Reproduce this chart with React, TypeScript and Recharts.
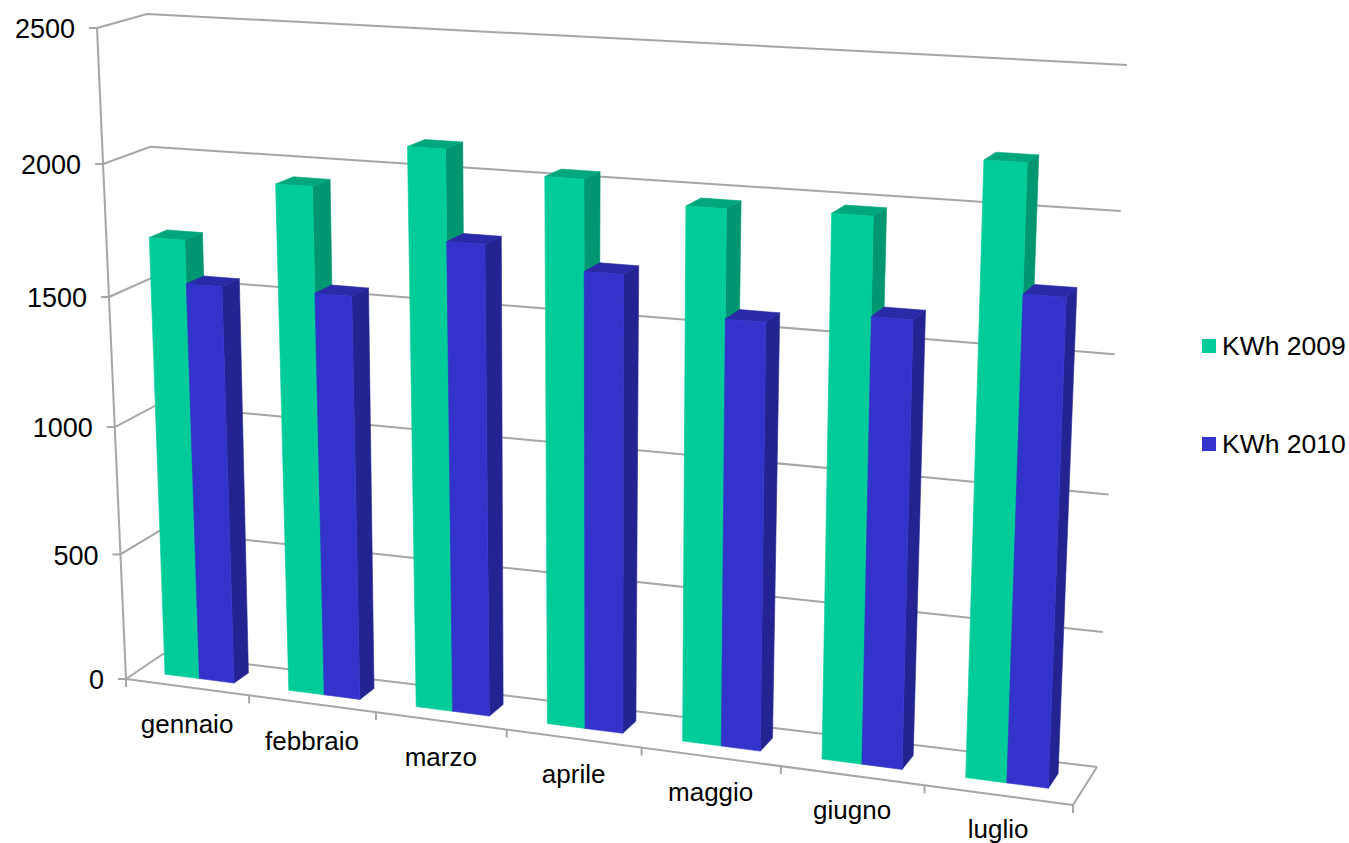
import { Bar, BarChart, CartesianGrid, Legend, XAxis, YAxis } from 'recharts'

const MONTHS = ['gennaio', 'febbraio', 'marzo', 'aprile', 'maggio', 'giugno', 'luglio']
const KWH_2009 = [1710, 1945, 2115, 2040, 1970, 1980, 2197]
const KWH_2010 = [1545, 1550, 1780, 1710, 1580, 1630, 1750]
const Y_TICKS = [0, 500, 1000, 1500, 2000, 2500]

const rows = MONTHS.map((month, i) => ({
  month,
  'KWh 2009': KWH_2009[i],
  'KWh 2010': KWH_2010[i],
}))

type Pt = [number, number]

const WIDTH = 1349
const HEIGHT = 843
// flat plot box; everything in it gets pushed through project() below
const PLOT = { left: 126, top: 28, width: 947, height: 777 }

const GRID_COLOR = '#a6a6a6'
const FONT = '"Liberation Sans", Arial, sans-serif'
const FONT_SIZE = 26

const GREEN = { front: '#00cc99', side: '#00966f', top: '#00a67c' }
const BLUE = { front: '#3333cc', side: '#232392', top: '#2a2aa8' }

// box corners as tl, tr, br, bl
const FRONT_QUAD: Pt[] = [[97, 28], [1100, 82], [1073, 805], [126, 679]]
const BACK_QUAD: Pt[] = [[147, 14], [1127, 65], [1097, 767], [163, 654]]
const BAR_DEPTH_FRONT = 0.33
const BAR_DEPTH_BACK = 0.72

// unit square -> quad homography
const makeHomography = ([p0, p1, p2, p3]: Pt[]) => {
  const dx1 = p1[0] - p2[0]
  const dx2 = p3[0] - p2[0]
  const dy1 = p1[1] - p2[1]
  const dy2 = p3[1] - p2[1]
  const sx = p0[0] - p1[0] + p2[0] - p3[0]
  const sy = p0[1] - p1[1] + p2[1] - p3[1]
  const det = dx1 * dy2 - dx2 * dy1
  const g = (sx * dy2 - dx2 * sy) / det
  const h = (dx1 * sy - sx * dy1) / det
  const a = p1[0] - p0[0] + g * p1[0]
  const b = p3[0] - p0[0] + h * p3[0]
  const d = p1[1] - p0[1] + g * p1[1]
  const e = p3[1] - p0[1] + h * p3[1]
  return (u: number, v: number): Pt => {
    const w = g * u + h * v + 1
    return [(a * u + b * v + p0[0]) / w, (d * u + e * v + p0[1]) / w]
  }
}

const frontPlane = makeHomography(FRONT_QUAD)
const backPlane = makeHomography(BACK_QUAD)

// u across, v down (0 = top of scale), depth 0 front .. 1 back wall
const project = (u: number, v: number, depth: number): Pt => {
  const f = frontPlane(u, v)
  const b = backPlane(u, v)
  return [f[0] + (b[0] - f[0]) * depth, f[1] + (b[1] - f[1]) * depth]
}

const toU = (x: number) => (x - PLOT.left) / PLOT.width
const toV = (y: number) => (y - PLOT.top) / PLOT.height
const pts = (list: Pt[]) => list.map((p) => `${p[0].toFixed(1)},${p[1].toFixed(1)}`).join(' ')

const Face = ({ fill, corners }: { fill: string; corners: Pt[] }) => (
  <polygon fill={fill} stroke={fill} strokeWidth={0.6} strokeLinejoin="round" points={pts(corners)} />
)

const barShape = (colors: typeof GREEN) => (props: any) => {
  const { x, y, width, height } = props
  const u0 = toU(x)
  const u1 = toU(x + width)
  const vTop = toV(y)
  const vBase = toV(y + height)
  const d0 = BAR_DEPTH_FRONT
  const d1 = BAR_DEPTH_BACK
  return (
    <g>
      <Face
        fill={colors.side}
        corners={[project(u1, vTop, d0), project(u1, vTop, d1), project(u1, vBase, d1), project(u1, vBase, d0)]}
      />
      <Face
        fill={colors.top}
        corners={[project(u0, vTop, d0), project(u0, vTop, d1), project(u1, vTop, d1), project(u1, vTop, d0)]}
      />
      <Face
        fill={colors.front}
        corners={[project(u0, vTop, d0), project(u1, vTop, d0), project(u1, vBase, d0), project(u0, vBase, d0)]}
      />
    </g>
  )
}

const Line = ({ from, to }: { from: Pt; to: Pt }) => (
  <line x1={from[0]} y1={from[1]} x2={to[0]} y2={to[1]} stroke={GRID_COLOR} strokeWidth={2} />
)

// one level: side wall segment then back wall segment
const gridLevel = (props: any) => {
  const v = toV(props.y1)
  return (
    <polyline
      key={props.key ?? props.y1}
      fill="none"
      stroke={GRID_COLOR}
      strokeWidth={2}
      points={pts([project(0, v, 0), project(0, v, 1), project(1, v, 1)])}
    />
  )
}

const YTick = (props: any) => {
  const [px, py] = project(0, toV(props.y), 0)
  return (
    <g>
      <Line from={[px - 8, py]} to={[px, py]} />
      <text x={px - 22} y={py} dy="0.38em" textAnchor="end" fontFamily={FONT} fontSize={27} fill="#000">
        {props.payload.value}
      </text>
    </g>
  )
}

const XTick = (props: any) => {
  const step = 1 / MONTHS.length
  const u = toU(props.x)
  const [px, py] = project(u, 1, 0)
  const start = project(u - step / 2, 1, 0)
  const end = project(u + step / 2, 1, 0)
  // labels sit a little closer to the floor edge towards the right
  const labelY = py + 37.5 - 3.5 * u
  return (
    <g>
      <Line from={start} to={[start[0], start[1] + 8]} />
      {props.index === MONTHS.length - 1 && <Line from={end} to={[end[0], end[1] + 8]} />}
      <text x={px} y={labelY} dy="0.35em" textAnchor="middle" fontFamily={FONT} fontSize={FONT_SIZE} fill="#000">
        {props.payload.value}
      </text>
    </g>
  )
}

// floor edges and the near vertical axis
const Frame = () => (
  <g>
    <Line from={project(0, 0, 0)} to={project(0, 1, 0)} />
    <Line from={project(0, 1, 0)} to={project(1, 1, 0)} />
    <Line from={project(1, 1, 0)} to={project(1, 1, 1)} />
  </g>
)

const LegendList = ({ payload }: any) => (
  <div style={{ fontFamily: FONT, fontSize: 26.5, color: '#000' }}>
    {payload.map((item: any) => (
      <div key={item.value} style={{ display: 'flex', alignItems: 'center', height: 30, marginBottom: 68 }}>
        <span style={{ width: 14, height: 14, background: item.color, marginRight: 6 }} />
        {item.value}
      </div>
    ))}
  </div>
)

export default function App() {
  return (
    <div style={{ position: 'absolute', left: 0, top: 0, background: '#fff' }}>
      <BarChart
        width={WIDTH}
        height={HEIGHT}
        data={rows}
        barGap={0}
        barCategoryGap="22%"
        margin={{
          top: PLOT.top,
          left: PLOT.left - 1,
          right: WIDTH - PLOT.left - PLOT.width,
          bottom: HEIGHT - PLOT.top - PLOT.height - 1,
        }}
      >
        <CartesianGrid horizontal={gridLevel} vertical={false} />
        <Frame />
        <XAxis dataKey="month" height={1} axisLine={false} tickLine={false} interval={0} tick={XTick} />
        <YAxis
          width={1}
          domain={[0, 2500]}
          ticks={Y_TICKS}
          axisLine={false}
          tickLine={false}
          tick={YTick}
        />
        {/* align center + middle keeps the legend from taking plot space */}
        <Legend
          layout="vertical"
          align="center"
          verticalAlign="middle"
          content={LegendList}
          wrapperStyle={{ position: 'absolute', left: 1202, top: 331, width: 147 }}
        />
        <Bar dataKey="KWh 2009" fill={GREEN.front} shape={barShape(GREEN)} isAnimationActive={false} />
        <Bar dataKey="KWh 2010" fill={BLUE.front} shape={barShape(BLUE)} isAnimationActive={false} />
      </BarChart>
    </div>
  )
}
